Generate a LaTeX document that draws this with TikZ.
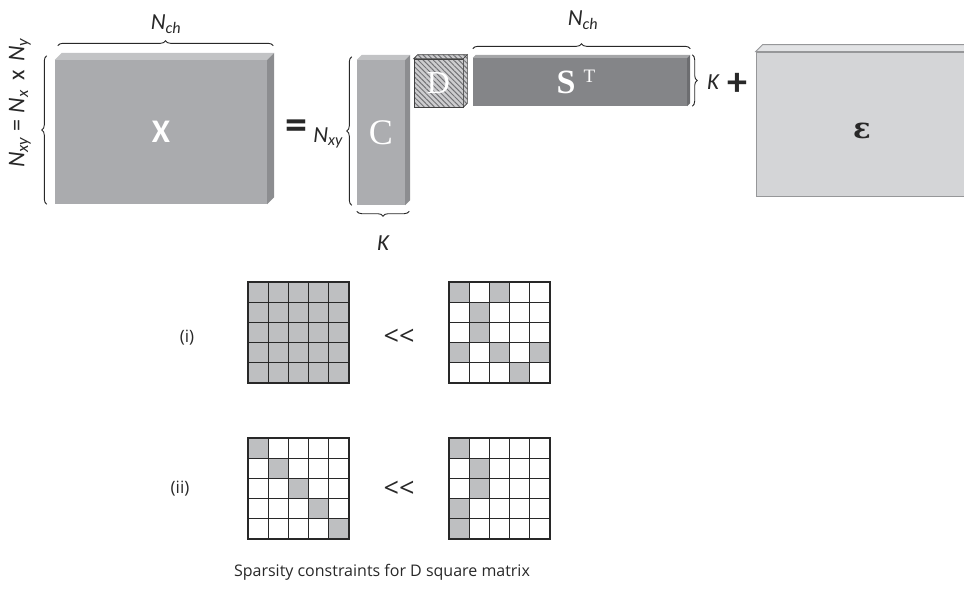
\documentclass[tikz,border=0pt]{standalone}
\usepackage{fontspec}
\setmainfont{Carlito}
\newfontfamily\opensans{Open Sans}
\newfontfamily\serifr{Liberation Serif}
\newfontfamily\dejaserif{DejaVu Serif}
\usetikzlibrary{decorations.pathreplacing,patterns.meta}
\definecolor{xfront}{RGB}{170,171,174}
\definecolor{xtop}{RGB}{194,195,197}
\definecolor{xside}{RGB}{140,141,144}
\definecolor{cfront}{RGB}{172,173,176}
\definecolor{sfront}{RGB}{132,133,136}
\definecolor{stop}{RGB}{165,166,168}
\definecolor{sside}{RGB}{108,109,112}
\definecolor{dfill}{RGB}{205,205,207}
\definecolor{dhatch}{RGB}{115,115,118}
\definecolor{efront}{RGB}{212,213,215}
\definecolor{etop}{RGB}{226,227,229}
\definecolor{eborder}{RGB}{150,151,153}
\definecolor{cellgray}{RGB}{190,191,193}
\definecolor{ink}{RGB}{40,40,40}
\newcommand\boxfaces[4]{%
  \path[#3] (#1.north west) -- ++(#2,-#2) -- ([shift={(#2,-#2)}]#1.north east) -- (#1.north east) -- cycle;
  \path[#4] (#1.north east) -- ++(#2,-#2) -- ([shift={(#2,-#2)}]#1.south east) -- (#1.south east) -- cycle;}
\newcommand\cellsz{20.2}
\newcommand\matgrid[2]{%
  \foreach \i in {0,...,5} {
    \draw[cellbox] (#1+\i*\cellsz,#2) -- ++(0,5*\cellsz);
    \draw[cellbox] (#1,#2+\i*\cellsz) -- ++(5*\cellsz,0);
  }}
\newcommand\matcells[3]{%
  \foreach \c/\r in {#3} {\fill[cellgray] (#1+\c*\cellsz,#2+\r*\cellsz) rectangle ++(\cellsz,\cellsz);}}
\begin{document}
\begin{tikzpicture}[x=1pt,y=-1pt,
  lbl/.style={font=\fontsize{23}{25}\selectfont\itshape, text=ink, inner sep=0},
  brc/.style={decorate, decoration={brace, amplitude=5pt}, draw=ink, line width=0.9pt},
  face/.style={inner sep=0, draw=none},
  cellbox/.style={draw=ink, line width=1.1pt, line cap=rect},
  dhatchstyle/.style={preaction={fill=dfill}, pattern={Lines[angle=-45,distance=3.6pt,line width=1pt]}, pattern color=dhatch, draw=black!75, line width=0.6pt},
  sym/.style={inner sep=0, text=ink},
]
\useasboundingbox (0,0) rectangle (964,589);

% X
\node[face, minimum width=212pt, minimum height=144pt, fill=xfront, text=white,
      font=\fontsize{33}{36}\selectfont\bfseries] (X) at (161,132) {X};
\boxfaces{X}{7}{fill=xtop}{fill=xside}
\draw[brc] ([shift={(3,-14)}]X.north west) -- ([shift={(6,-14)}]X.north east);
\node[lbl] (nch1) at (166,24) {N\textsubscript{ch}};
\draw[brc] ([shift={(-8,0)}]X.south west) -- ([shift={(-8,-4)}]X.north west);
\node[lbl, font=\fontsize{24}{26}\selectfont\itshape, rotate=90] (nxy1) at (20,103)
  {N\textsubscript{xy}\hspace{6pt}{\upshape=}\hspace{6pt}N\textsubscript{x}\hspace{9pt}{\upshape x}\hspace{9pt}N\textsubscript{y}};

% =
\node[sym, font=\fontsize{44}{46}\selectfont\bfseries] (eq) at (296,130) {=};

% C
\node[face, minimum width=48pt, minimum height=145pt, fill=cfront, text=white,
      font=\serifr\fontsize{36}{38}\selectfont] (C) at (381,132.5) {C};
\boxfaces{C}{5}{fill=xtop}{fill=xside}
\draw[brc] ([shift={(-5,0)}]C.south west) -- ([shift={(-5,-3)}]C.north west);
\node[lbl, anchor=base east] (nxy2) at (343,142) {N\textsubscript{xy}};
\draw[brc] ([shift={(4,6)}]C.south east) -- ([shift={(0,6)}]C.south west);
\node[lbl] (k1) at (383,243) {K};

% D
\node[face, minimum width=49pt, minimum height=48pt, dhatchstyle] (D) at (438.5,83) {};
\boxfaces{D}{4}{dhatchstyle}{dhatchstyle}
\node[inner sep=0, text=white, font=\serifr\fontsize{32}{34}\selectfont] (dl) at (D) {D};

% S^T
\node[face, minimum width=214pt, minimum height=48pt, fill=sfront] (S) at (580,82) {};
\boxfaces{S}{3}{fill=stop}{fill=sside}
\node[inner sep=0, text=white] (sl) at (576,82)
  {{\serifr\bfseries\fontsize{34}{36}\selectfont S}\hspace{8pt}\raisebox{11pt}{\serifr\fontsize{19}{20}\selectfont T}};
\draw[brc] ([shift={(0,-9)}]S.north west) -- ([shift={(3,-9)}]S.north east);
\node[lbl] (nch2) at (583,20) {N\textsubscript{ch}};
\draw[brc] ([shift={(5,-3)}]S.north east) -- ([shift={(5,0)}]S.south east);
\node[lbl] (k2) at (713,82) {K};

% +
\node[sym, font=\fontsize{40}{42}\selectfont\bfseries] (plus) at (737,84) {+};

% epsilon
\node[face, minimum width=214pt, minimum height=144pt, fill=efront, draw=eborder, line width=0.8pt] (E) at (863,124) {};
\boxfaces{E}{7}{fill=etop, draw=eborder, line width=0.8pt}{fill=xside}
\node[inner sep=0, text=ink, font=\dejaserif\bfseries\fontsize{29}{31}\selectfont] (el) at (862,131) {ε};

% sparsity matrices
\fill[cellgray] (248,282) rectangle ++(5*\cellsz,5*\cellsz);
\matgrid{248}{282}
\matcells{449}{282}{0/0,2/0,1/1,1/2,0/3,2/3,4/3,3/4}
\matgrid{449}{282}
\matcells{248}{438}{0/0,1/1,2/2,3/3,4/4}
\matgrid{248}{438}
\matcells{449}{438}{0/0,1/1,1/2,0/3,0/4}
\matgrid{449}{438}

\node[sym, font=\opensans\fontsize{17}{19}\selectfont] (li) at (187,338) {(i)};
\node[sym, font=\opensans\fontsize{17}{19}\selectfont] (lii) at (180,489) {(ii)};
\node[sym, font=\opensans\fontsize{27}{29}\selectfont] (ll1) at (399,337) {<<};
\node[sym, font=\opensans\fontsize{27}{29}\selectfont] (ll2) at (399,489) {<<};

\node[sym, font=\opensans\fontsize{16}{18}\selectfont] (cap) at (382,572) {Sparsity constraints for D square matrix};
\end{tikzpicture}
\end{document}
